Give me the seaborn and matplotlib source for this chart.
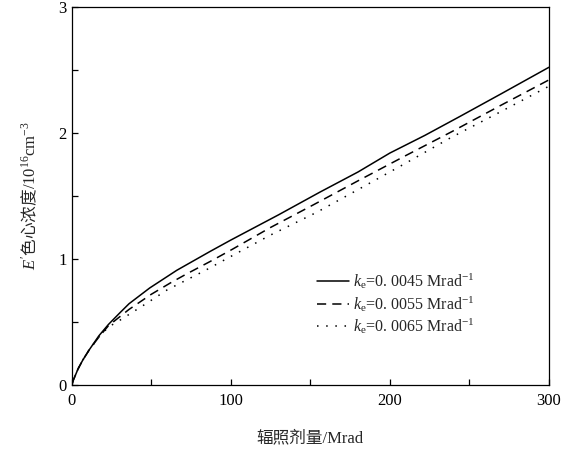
import pandas as pd
import seaborn as sns
import matplotlib.pyplot as plt
import matplotlib.ticker as ticker

# dose (Mrad) and E' centre concentration (10^16 cm^-3)
DOSE_1 = [0, 1, 2, 4, 7, 11, 17, 23, 30, 36, 49, 66, 87, 100, 130, 156, 180, 200, 222, 244, 270, 300]
CONC_1 = [0, 0.04, 0.07, 0.13, 0.2, 0.28, 0.39, 0.48, 0.57, 0.645, 0.77, 0.91, 1.06, 1.15, 1.35, 1.53, 1.69, 1.84, 1.98, 2.13, 2.31, 2.52]

DOSE_2 = [0, 1, 2, 4, 7, 11, 17, 23, 30, 36, 50, 62, 72, 87, 100, 125, 152, 180, 210, 239, 270, 300]
CONC_2 = [0, 0.04, 0.07, 0.13, 0.2, 0.28, 0.38, 0.47, 0.54, 0.60, 0.72, 0.81, 0.88, 0.98, 1.07, 1.25, 1.43, 1.62, 1.82, 2.01, 2.22, 2.42]

DOSE_3 = [0, 1, 2, 4, 7, 11, 17, 23, 31, 46, 60, 84, 100, 125, 154, 180, 210, 238, 270, 300]
CONC_3 = [0, 0.04, 0.07, 0.13, 0.2, 0.28, 0.38, 0.46, 0.52, 0.64, 0.755, 0.91, 1.02, 1.19, 1.37, 1.55, 1.76, 1.96, 2.17, 2.37]

LABELS = [r"$k_{\mathrm{e}}$=0. 0045 Mrad$^{-1}$",
          r"$k_{\mathrm{e}}$=0. 0055 Mrad$^{-1}$",
          r"$k_{\mathrm{e}}$=0. 0065 Mrad$^{-1}$"]
STYLES = ["-", (0, (6, 4)), (0, (1, 5))]

sns.set_style("ticks")
plt.rcParams['font.family'] = ['Liberation Serif', 'Noto Sans CJK SC']
plt.rcParams['mathtext.fontset'] = 'custom'
plt.rcParams['mathtext.rm'] = 'Liberation Serif'
plt.rcParams['mathtext.it'] = 'Liberation Serif:italic'
plt.rcParams['mathtext.sf'] = 'Noto Sans CJK SC'
plt.rcParams['font.size'] = 11

fig = plt.figure(figsize=(5.79, 4.53), dpi=100)
ax = fig.add_axes([0.124, 0.150, 0.824, 0.835])

series = [(DOSE_1, CONC_1), (DOSE_2, CONC_2), (DOSE_3, CONC_3)]
for (dose, conc), label, ls in zip(series, LABELS, STYLES):
    df = pd.DataFrame({'dose': dose, 'conc': conc})
    sns.lineplot(data=df, x='dose', y='conc', ax=ax, color='black', linewidth=1.1,
                 linestyle=ls, label=label)

ax.set_xlim(0, 300)
ax.set_ylim(0, 3)
ax.xaxis.set_major_locator(ticker.MultipleLocator(100))
ax.xaxis.set_minor_locator(ticker.MultipleLocator(50))
ax.yaxis.set_major_locator(ticker.MultipleLocator(1))
ax.yaxis.set_minor_locator(ticker.MultipleLocator(0.5))
ax.tick_params(which='both', direction='in', length=4, width=0.9, top=False, right=False,
               labelsize=12, colors='black')
ax.tick_params(axis='x', pad=6)
for s in ax.spines.values():
    s.set_visible(True)
    s.set_linewidth(0.9)
    s.set_color('black')

ax.set_xlabel("辐照剂量/Mrad", fontsize=12, labelpad=15)
ax.set_ylabel(r"$E'\mathsf{色心浓度}\mathrm{/10^{16}cm^{-3}}$", fontsize=12, labelpad=14)

ax.legend(loc='center left', bbox_to_anchor=(0.5, 0.215), frameon=False, fontsize=11.5,
          handlelength=2.0, handletextpad=0.3, labelspacing=0.15, borderaxespad=0)

fig.savefig('out.png', dpi=100)
